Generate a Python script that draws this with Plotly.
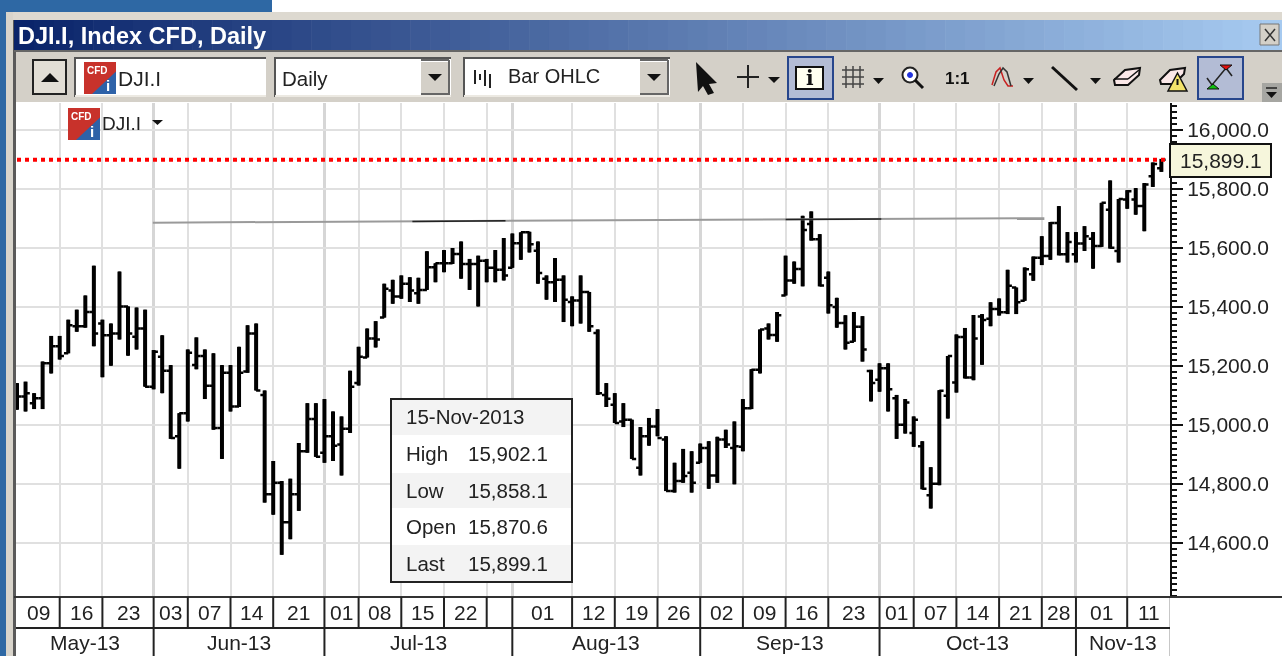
import plotly.graph_objects as go

W, H = 1282, 656

# ---------- data ----------
high = [15142,15147,15108,15215,15302,15302,15357,15391,15439,15540,15357,15344,15520,15402,15398,15391,15254,15304,15203,15040,
        15256,15297,15256,15243,15203,15203,15265,15338,15344,15117,14878,14810,14818,14939,15074,15074,15088,15046,15029,15184,
        15265,15327,15352,15479,15492,15507,15501,15499,15589,15548,15593,15600,15622,15563,15574,15563,15593,15634,15649,15653,
        15655,15622,15507,15566,15507,15436,15507,15451,15324,15142,15108,15074,15018,14993,15024,15054,14962,14872,14919,14911,
        14937,14945,14960,14984,15012,15088,15189,15324,15344,15383,15574,15554,15709,15724,15647,15520,15431,15372,15383,15369,
        15187,15209,15209,15102,15088,15029,14945,14857,15118,15234,15307,15329,15373,15376,15416,15429,15526,15466,15534,15571,
        15640,15688,15742,15654,15654,15674,15654,15753,15829,15766,15796,15803,15820,15890,15902.1]
low = [15052,15046,15054,15054,15175,15222,15243,15316,15330,15267,15162,15201,15290,15235,15256,15130,15121,15108,14953,14852,
       15012,15189,15088,14984,14885,15046,15061,15177,15117,14737,14696,14560,14613,14709,14906,14892,14872,14878,14829,14973,
       15134,15229,15263,15364,15411,15428,15417,15411,15458,15484,15518,15546,15496,15458,15402,15484,15484,15490,15533,15560,
       15585,15479,15425,15417,15349,15335,15344,15316,15102,15061,15007,14993,14885,14829,14930,14962,14776,14771,14804,14771,
       14872,14784,14804,14922,14799,14911,15054,15175,15290,15282,15439,15479,15470,15625,15470,15378,15330,15256,15282,15215,
       15080,15113,15046,14953,14971,14926,14782,14717,14796,15022,15110,15158,15152,15204,15335,15371,15376,15376,15421,15489,
       15542,15560,15575,15551,15551,15590,15530,15604,15598,15551,15733,15713,15657,15807,15858.1]
open_ = [15097,15097,15074,15091,15209,15267,15243,15335,15335,15383,15344,15304,15310,15402,15299,15327,15130,15231,15184,14962,
         15040,15203,15234,15133,14990,15177,15063,15181,15310,15102,14765,14804,14670,14765,14911,15020,14906,14962,14934,14987,
         15142,15229,15293,15364,15456,15436,15479,15447,15458,15535,15548,15548,15580,15546,15546,15557,15533,15526,15533,15616,
         15653,15591,15496,15484,15492,15417,15422,15451,15312,15102,15069,15012,15018,14855,14962,14995,14951,14776,14810,14838,
         14872,14922,14829,14951,14922,14926,15057,15187,15327,15305,15439,15490,15529,15681,15630,15499,15400,15346,15282,15333,
         15183,15153,15192,15091,15001,14973,14928,14762,14801,15099,15144,15298,15161,15368,15360,15393,15382,15466,15421,15511,
         15567,15573,15685,15579,15579,15615,15631,15607,15730,15590,15764,15764,15742,15843,15870.6]
close = [15097,15108,15091,15209,15267,15234,15338,15335,15383,15310,15304,15310,15402,15310,15327,15130,15248,15184,14956,15040,
         15245,15234,15133,14990,15177,15063,15177,15310,15117,14765,14804,14670,14765,14911,15020,14892,14962,14930,14987,15130,
         15231,15293,15290,15462,15436,15479,15456,15458,15535,15548,15548,15580,15546,15546,15557,15533,15526,15507,15616,15653,
         15613,15515,15484,15492,15425,15422,15451,15335,15108,15089,15007,15018,14885,14962,14995,14956,14776,14810,14827,14804,
         14922,14829,14951,14934,14928,15057,15187,15324,15305,15372,15490,15529,15661,15630,15473,15406,15346,15279,15333,15256,
         15142,15192,15121,15001,15076,15018,14784,14801,15116,15234,15298,15161,15293,15356,15393,15382,15472,15416,15528,15567,
         15573,15685,15579,15620,15615,15640,15607,15753,15601,15766,15792,15742,15815,15885,15899.1]
bar_number = list(range(1, len(close) + 1))

y_ticks = [14600, 14800, 15000, 15200, 15400, 15600, 15800, 16000]
last_price = 15899.1

# week cells: label and the bar each one starts on
week_labels = ["09","16","23","03","07","14","21","01","08","15","22","","01","12","19","26",
               "02","09","16","23","01","07","14","21","28","01","11"]
week_starts = [1,6,11,17,21,26,31,37,41,46,51,56,59,66,71,76,81,86,91,96,102,106,111,116,121,125,131]
month_labels = ["May-13","Jun-13","Jul-13","Aug-13","Sep-13","Oct-13","Nov-13"]
month_starts = [1,17,37,59,81,102,125]
axis_end_bar = 136.1

trend_bars = [16.9, 121.3]
trend_values = [15686, 15701]
trend_dark_bars = [47.3, 58.2, None, 91, 102.2]
trend_dark_values = [15690, 15692, None, 15697, 15698]

info_rows = [("15-Nov-2013", ""), ("High", "15,902.1"), ("Low", "15,858.1"), ("Open", "15,870.6"), ("Last", "15,899.1")]

# ---------- screen geometry helpers ----------
PLOT_L, PLOT_R, PLOT_T, PLOT_B = 16, 1170, 103, 597
FACE = "#D4D0C8"
shapes, notes = [], []

def X(p): return p / W
def Y(p): return 1 - p / H

def rect(x0, y0, x1, y1, fill, line=None, lw=1):
    shapes.append(dict(type="rect", xref="paper", yref="paper", x0=X(x0), x1=X(x1), y0=Y(y0), y1=Y(y1),
                       fillcolor=fill, line=dict(color=line or fill, width=lw if line else 0), layer="above"))

def seg(x0, y0, x1, y1, color="#000000", lw=2):
    shapes.append(dict(type="line", xref="paper", yref="paper", x0=X(x0), x1=X(x1), y0=Y(y0), y1=Y(y1),
                       line=dict(color=color, width=lw), layer="above"))

def poly(pts, fill="#000000", line=None, lw=1, closed=True):
    d = "M " + " L ".join(f"{X(a):.5f} {Y(b):.5f}" for a, b in pts) + (" Z" if closed else "")
    shapes.append(dict(type="path", xref="paper", yref="paper", path=d, fillcolor=fill if closed else "rgba(0,0,0,0)",
                       line=dict(color=line or fill, width=lw if line else 0), layer="above"))

def circle(cx, cy, r, fill, line, lw=2):
    shapes.append(dict(type="circle", xref="paper", yref="paper", x0=X(cx - r), x1=X(cx + r), y0=Y(cy - r), y1=Y(cy + r),
                       fillcolor=fill, line=dict(color=line, width=lw), layer="above"))

def txt(x, y, s, size=20.5, anchor="left", color="#222222", bold=False, family="Liberation Sans"):
    notes.append(dict(xref="paper", yref="paper", x=X(x), y=Y(y), text=f"<b>{s}</b>" if bold else s, showarrow=False,
                      xanchor=anchor, yanchor="middle", align=anchor, borderpad=0,
                      font=dict(family=family, size=size, color=color)))

def tri(x0, x1, y0, y1):
    poly([(x0, y0), (x1, y0), ((x0 + x1) / 2, y1)], "#111111")

def cfd_icon(x, y, s):
    rect(x, y, x + s, y + s, "#C8322B")
    poly([(x + s, y + s * 0.3), (x + s, y + s), (x + s * 0.25, y + s)], "#2E62A8")
    txt(x + s * 0.42, y + s * 0.28, "CFD", 10, "center", "#FFFFFF", True)
    txt(x + s * 0.76, y + s * 0.72, "i", 15, "center", "#FFFFFF", True)

def combo(x0, x1, btn=None):
    rect(x0, 57, x1, 97, "#FFFFFF")
    seg(x0, 58, x1, 58, "#555555", 2)
    seg(x0 + 1, 57, x0 + 1, 97, "#555555", 2)
    seg(x0 + 1, 96, x1, 96, "#ECE9E2", 2)
    if btn:
        rect(btn, 62, x1 - 2, 94, FACE)
        seg(btn, 94, x1 - 2, 94, "#666666", 2)
        seg(x1 - 2, 60, x1 - 2, 95, "#666666", 2)
        seg(btn, 60, x1 - 2, 60, "#666666", 2)
        tri(btn + 7, btn + 21, 74, 81)

# ---------- window chrome ----------
rect(0, 0, 272, 12, "#2E68A4")
rect(0, 0, 6, H, "#2E68A4")
rect(6, 12, W, 20, "#DDD9D0")
rect(6, 12, 13, H, "#D8D4CB")
seg(14.5, 20, 14.5, H, "#5A5A5A", 3)

start, stop = (10, 36, 106), (166, 202, 240)
steps = 64
step_w = (W - 14) / steps
for i in range(steps):
    t = i / (steps - 1)
    c = [round(a + (b - a) * t) for a, b in zip(start, stop)]
    rect(14 + i * step_w, 20, 14 + (i + 1) * step_w + 0.6, 50, f"rgb({c[0]},{c[1]},{c[2]})")
txt(17, 36, "DJI.I, Index CFD, Daily", 23.5, "left", "#FFFFFF", True)

rect(1260, 24, 1279, 45, FACE, "#777777", 1)
seg(1265, 29, 1275, 41, "#333333", 1.5)
seg(1275, 29, 1265, 41, "#333333", 1.5)

rect(16, 50, W, 102, FACE)
seg(14, 51, W, 51, "#666666", 2)

rect(33, 60, 66, 94, "#E2DED5", "#222222", 2)
poly([(41, 82), (59, 82), (50, 73)], "#111111")

combo(74, 266)
cfd_icon(84, 62, 32)
txt(117, 78, "DJI.I", 21)
combo(274, 451, 421)
txt(281, 78, "Daily", 20.5)
combo(463, 670, 640)
for x, a, b in [(475, 70, 84), (480, 74, 80), (485, 70, 86), (490, 74, 88)]:
    seg(x, a, x, b, "#222222", 2)
txt(507, 76, "Bar OHLC", 20)

poly([(696, 62), (717, 83), (709, 84), (714, 93), (708, 95), (703, 86), (698, 92)], "#111111")
seg(737, 77, 759, 77, "#222222", 2)
seg(748, 65, 748, 88, "#222222", 2)
tri(768, 780, 77, 83)

rect(788, 57, 833, 99, "#B3BCD5", "#27468C", 2)
rect(796, 67, 823, 89, "#FFFFF0", "#111111", 2)
txt(809.5, 78, "i", 20, "center", "#111111", True, "DejaVu Serif")

for x in (846, 853, 860):
    seg(x, 66, x, 88, "#444444", 1.5)
for y in (70, 77, 84):
    seg(842, y, 864, y, "#444444", 1.5)
tri(873, 884, 78, 84)

circle(910, 75, 7.5, "#FFFFFF", "#222222", 2)
circle(910, 75, 2.5, "#2233DD", "#2233DD", 1)
seg(915, 80, 923, 88, "#111111", 3)
txt(958, 78, "1:1", 17, "center", "#111111", True)

poly([(992, 85), (996, 72), (1000, 68), (1004, 80), (1008, 86), (1013, 86)], "#C82020", "#C82020", 1.5, False)
poly([(994, 86), (999, 74), (1003, 68), (1007, 72), (1011, 86)], "#333333", "#333333", 1.5, False)
tri(1023, 1034, 78, 84)
seg(1052, 67, 1077, 90, "#111111", 3)
tri(1090, 1101, 78, 84)

poly([(1114, 80), (1125, 70), (1140, 68), (1139, 75), (1128, 85), (1115, 85)], "#FBE8E8", "#111111", 2)
seg(1114, 79, 1128, 79, "#111111", 1.5)
seg(1128, 79, 1139, 70, "#111111", 1.5)
poly([(1160, 80), (1170, 70), (1185, 68), (1184, 74), (1174, 84), (1161, 84)], "#FBE8E8", "#111111", 2)
poly([(1168, 91), (1187, 91), (1177.5, 73)], "#F3E36A", "#111111", 1.5)
seg(1177.5, 79, 1177.5, 85, "#111111", 2)

rect(1198, 57, 1243, 99, "#B3BCD5", "#27468C", 2)
seg(1212, 85, 1226, 68, "#222222", 1.5)
seg(1226, 68, 1232, 76, "#222222", 1.5)
seg(1212, 85, 1207, 78, "#222222", 1.5)
poly([(1220, 65), (1232, 65), (1226, 70)], "#E01010", "#111111", 1)
poly([(1207, 89), (1219, 89), (1213, 84)], "#10C010", "#111111", 1)

rect(1262, 83, W, 102, "#A6A6A2")
seg(1266, 88, 1277, 88, "#222222", 1.5)
tri(1266, 1277, 92, 98)

# legend tag inside the plot
cfd_icon(68, 108, 32)
txt(101, 123, "DJI.I", 19)
tri(152, 163, 120, 125)

# price flag
rect(1170, 144, 1271, 177, "#F6F6DC", "#111111", 2)
txt(1221, 161, f"{last_price:,.1f}", 21, "center")

# info box
rows = [(399, 435), (435, 473), (473, 508), (508, 545), (545, 582)]
for k, ((a, b), (name, val)) in enumerate(zip(rows, info_rows)):
    rect(391, a, 572, b, "#F3F3F3" if k % 2 == 0 else "#FFFFFF")
    txt(405, (a + b) / 2, name, 20.5)
    if val:
        txt(467, (a + b) / 2, val, 20.5)
rect(391, 399, 572, 582, "rgba(0,0,0,0)", "#222222", 2)

# axis cells below the plot
def cell_line(bar, y0, y1):
    shapes.append(dict(type="line", xref="x", yref="paper", x0=bar, x1=bar, y0=Y(y0), y1=Y(y1),
                       line=dict(color="#222222", width=2), layer="above"))

seg(14, 597, W, 597, "#333333", 2)
seg(16, 628, PLOT_R, 628, "#222222", 2)
for b in week_starts[1:] + [axis_end_bar]:
    cell_line(b, 597, 628)
for b in month_starts[1:] + [axis_end_bar]:
    cell_line(b, 628, H)

week_ends = week_starts[1:] + [axis_end_bar]
for s, e, lab in zip(week_starts, week_ends, week_labels):
    if lab:
        notes.append(dict(xref="x", yref="paper", x=(s + e) / 2, y=Y(612.5), text=lab, showarrow=False, yanchor="middle",
                          font=dict(family="Liberation Sans", size=21, color="#222222")))
month_ends = month_starts[1:] + [axis_end_bar]
for s, e, lab in zip(month_starts, month_ends, month_labels):
    notes.append(dict(xref="x", yref="paper", x=(s + e) / 2, y=Y(642.5), text=lab, showarrow=False, yanchor="middle",
                      font=dict(family="Liberation Sans", size=21, color="#222222")))

# ---------- marks ----------
fig = go.Figure()
fig.add_trace(go.Scatter(x=trend_bars, y=trend_values, mode="lines", line=dict(color="#9A9A9A", width=2), hoverinfo="skip"))
fig.add_trace(go.Scatter(x=trend_dark_bars, y=trend_dark_values, mode="lines", line=dict(color="#222222", width=1.5), hoverinfo="skip"))
fig.add_trace(go.Ohlc(x=bar_number, open=open_, high=high, low=low, close=close, tickwidth=0.5,
                      increasing=dict(line=dict(color="#000000", width=2.5)),
                      decreasing=dict(line=dict(color="#000000", width=2.5)), hoverinfo="skip"))
fig.add_trace(go.Ohlc(x=bar_number, open=open_, high=high, low=low, close=close, tickwidth=0,
                      increasing=dict(line=dict(color="#000000", width=4)),
                      decreasing=dict(line=dict(color="#000000", width=4)), hoverinfo="skip"))
fig.add_trace(go.Scatter(x=[bar_number[0], bar_number[-1] + 0.5], y=[last_price, last_price], mode="lines",
                         line=dict(color="#FF0000", width=4, dash="4px,4px"), hoverinfo="skip"))

BAR_PX = 8.54
fig.update_layout(
    width=W, height=H, autosize=False, showlegend=False,
    paper_bgcolor="#FFFFFF", plot_bgcolor="#FFFFFF",
    margin=dict(l=0, r=0, t=0, b=0, pad=0),
    shapes=shapes, annotations=notes,
    xaxis=dict(type="linear", domain=[X(PLOT_L), X(PLOT_R)],
               range=[1 + (PLOT_L - 17) / BAR_PX, 1 + (PLOT_R - 17) / BAR_PX],
               rangeslider=dict(visible=False), fixedrange=True, showticklabels=False, zeroline=False,
               tickmode="array", tickvals=month_starts[1:], ticks="", showgrid=True, gridcolor="#D6D6D6", gridwidth=3,
               minor=dict(tickmode="array", tickvals=week_starts[1:], showgrid=True, gridcolor="#E0E0E0", gridwidth=2, ticks="")),
    yaxis=dict(domain=[Y(PLOT_B), Y(PLOT_T)], range=[14417, 16091.5], side="right", anchor="x", fixedrange=True,
               tickmode="array", tickvals=y_ticks, tickformat=",.1f", zeroline=False,
               showline=True, linecolor="#111111", linewidth=2,
               ticks="outside", ticklen=11, tickwidth=2, tickcolor="#111111",
               showgrid=True, gridcolor="#E0E0E0", gridwidth=2,
               tickfont=dict(family="Liberation Sans", size=21, color="#222222"),
               minor=dict(dtick=20, ticks="outside", ticklen=5, tickwidth=2, tickcolor="#111111", showgrid=False)),
)

fig.write_html("out.html", config={"displayModeBar": False},
               post_script="document.body.style.margin='0';document.body.style.overflow='hidden';document.body.style.filter='blur(0.45px)';")
